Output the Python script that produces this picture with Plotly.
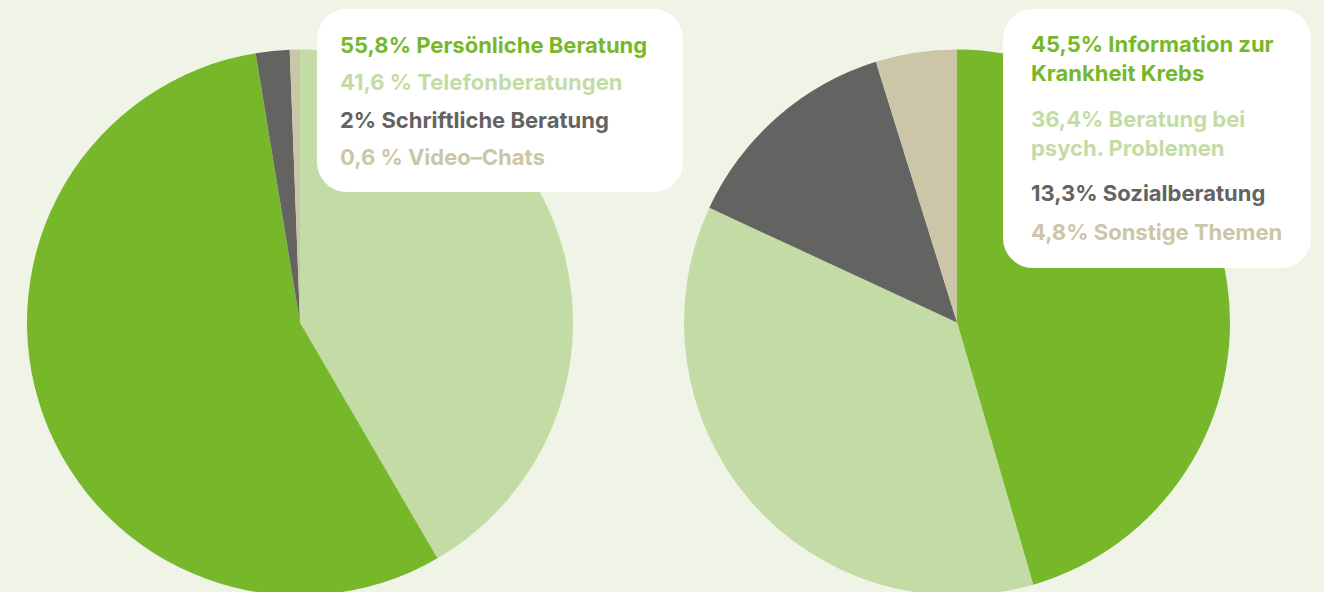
import plotly.graph_objects as go

W, H = 1324, 596
BG = "#EFF4E7"
DARK_GREEN = "#77B82A"
LIGHT_GREEN = "#C3DCA6"
GRAY = "#636362"
BEIGE = "#CCC6A9"

# Left pie: Beratungsformen (drawn clockwise from 12 o'clock)
left_labels = ["Telefonberatungen", "Persönliche Beratung", "Schriftliche Beratung", "Video-Chats"]
left_values = [41.6, 55.8, 2.0, 0.6]
left_colors = [LIGHT_GREEN, DARK_GREEN, GRAY, BEIGE]

# Right pie: Themen
right_labels = ["Information zur Krankheit Krebs", "Beratung bei psych. Problemen", "Sozialberatung", "Sonstige Themen"]
right_values = [45.5, 36.4, 13.3, 4.8]
right_colors = [DARK_GREEN, LIGHT_GREEN, GRAY, BEIGE]

# Legend texts
left_texts = ["55,8% Persönliche Beratung", "41,6 % Telefonberatungen", "2% Schriftliche Beratung", "0,6 % Video–Chats"]
left_text_colors = [DARK_GREEN, LIGHT_GREEN, GRAY, BEIGE]
right_texts = ["45,5% Information zur<br>Krankheit Krebs", "36,4% Beratung bei<br>psych. Problemen", "13,3% Sozialberatung", "4,8% Sonstige Themen"]
right_text_colors = [DARK_GREEN, LIGHT_GREEN, GRAY, BEIGE]


def px_x(p):
    return p / W


def px_y(p):
    return 1 - p / H


fig = go.Figure()
top = 49
for labels, values, colors, cx in [(left_labels, left_values, left_colors, 300),
                                   (right_labels, right_values, right_colors, 957)]:
    r = 273
    fig.add_trace(go.Pie(
        labels=labels, values=values, sort=False, direction="clockwise", rotation=0,
        marker=dict(colors=colors, line=dict(width=0)),
        textinfo="none", hoverinfo="label+percent", showlegend=False,
        domain=dict(x=[px_x(cx - r), px_x(cx + r)], y=[0, px_y(top)]),
    ))


def rounded_rect(x0, y0, x1, y1, rad):
    k = rad * (1 - 0.5523)

    def P(x, y):
        return f"{px_x(x):.5f},{px_y(y):.5f}"
    return (f"M {P(x0 + rad, y0)} L {P(x1 - rad, y0)} "
            f"C {P(x1 - k, y0)} {P(x1, y0 + k)} {P(x1, y0 + rad)} "
            f"L {P(x1, y1 - rad)} C {P(x1, y1 - k)} {P(x1 - k, y1)} {P(x1 - rad, y1)} "
            f"L {P(x0 + rad, y1)} C {P(x0 + k, y1)} {P(x0, y1 - k)} {P(x0, y1 - rad)} "
            f"L {P(x0, y0 + rad)} C {P(x0, y0 + k)} {P(x0 + k, y0)} {P(x0 + rad, y0)} Z")


for box in [(317, 9, 683, 192), (1003, 9, 1311, 268)]:
    fig.add_shape(type="path", path=rounded_rect(*box, 30), xref="paper", yref="paper",
                  fillcolor="white", line=dict(width=0), layer="above")

FONT = "Inter"
FS = 22
for txt, col, y in zip(left_texts, left_text_colors, [45, 82, 120, 157]):
    fig.add_annotation(text=f"<b>{txt}</b>", x=px_x(338), y=px_y(y), xref="paper", yref="paper",
                       xanchor="left", yanchor="middle", align="left", showarrow=False,
                       font=dict(family=FONT, size=FS, color=col))
for txt, col, y in zip(right_texts, right_text_colors, [58.5, 133, 193, 232]):
    fig.add_annotation(text=f"<b>{txt}</b>", x=px_x(1029), y=px_y(y), xref="paper", yref="paper",
                       xanchor="left", yanchor="middle", align="left", showarrow=False,
                       font=dict(family=FONT, size=FS, color=col))

fig.update_layout(width=W, height=H, margin=dict(l=0, r=0, t=0, b=0),
                  paper_bgcolor=BG, plot_bgcolor=BG, showlegend=False)

fig.write_html("out.html", config={"displayModeBar": False},
               post_script="document.body.style.margin='0';document.body.style.overflow='hidden';"
                           "document.documentElement.style.overflow='hidden';")
